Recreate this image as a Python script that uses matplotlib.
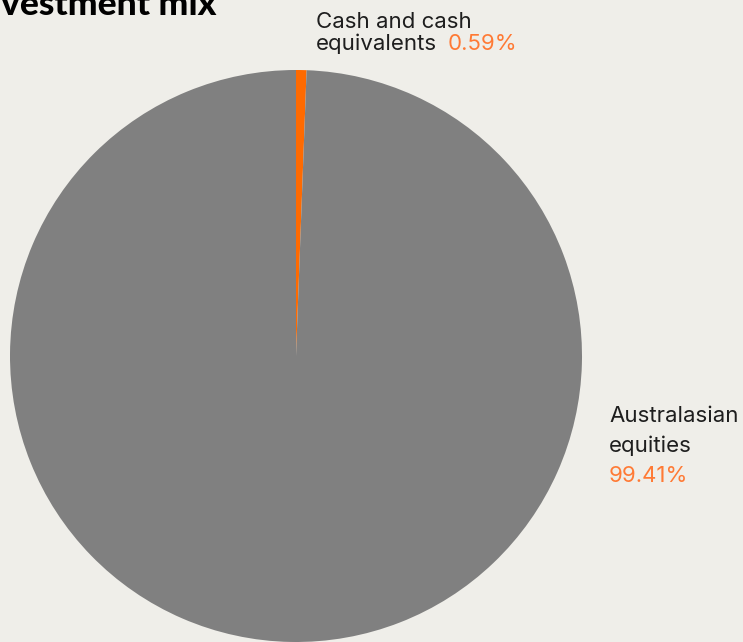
import matplotlib
matplotlib.use("Agg")
import matplotlib.pyplot as plt

# data
labels = ["Cash and cash equivalents", "Australasian equities"]
values = [0.59, 99.41]
pct_labels = ["0.59%", "99.41%"]
colors = ["#FF6A00", "#808080"]

BG = "#EFEEE9"
TXT = "#1E1E1E"
ORANGE_TXT = "#FF7A35"
W, H = 743, 642

plt.rcParams['font.family'] = ['Inter', 'DejaVu Sans']

fig = plt.figure(figsize=(W / 100, H / 100), dpi=100, facecolor=BG)

# pie axes: centre (296, 356) px, radius 286 px
cx, cy, r = 296, 356, 286
ax = fig.add_axes([(cx - r) / W, (H - cy - r) / H, 2 * r / W, 2 * r / H])
ax.set_facecolor(BG)
ax.pie(values, colors=colors, startangle=90, counterclock=False,
       wedgeprops=dict(linewidth=0))
ax.set_xlim(-1, 1)
ax.set_ylim(-1, 1)
ax.set_aspect('equal')
ax.axis('off')


def px(x, y):
    return x / W, 1 - y / H


# title (cut off at the top left, as in the original)
fig.text(*px(216, 15), "Investment mix", ha='right', va='baseline',
         fontsize=25.5, fontweight='black', color='black', family=['Lato', 'DejaVu Sans'])

# cash label
fs = 16
fig.text(*px(316, 28), "Cash and cash", ha='left', va='baseline', fontsize=fs, color=TXT)
fig.text(*px(316, 50), "equivalents", ha='left', va='baseline', fontsize=fs, color=TXT)
fig.text(*px(448, 50), pct_labels[0], ha='left', va='baseline', fontsize=fs, color=ORANGE_TXT)

# equities label
fig.text(*px(609, 422), "Australasian", ha='left', va='baseline', fontsize=fs, color=TXT)
fig.text(*px(609, 452), "equities", ha='left', va='baseline', fontsize=fs, color=TXT)
fig.text(*px(609, 482), pct_labels[1], ha='left', va='baseline', fontsize=fs, color=ORANGE_TXT)

fig.savefig("out.png", dpi=100, facecolor=BG)
